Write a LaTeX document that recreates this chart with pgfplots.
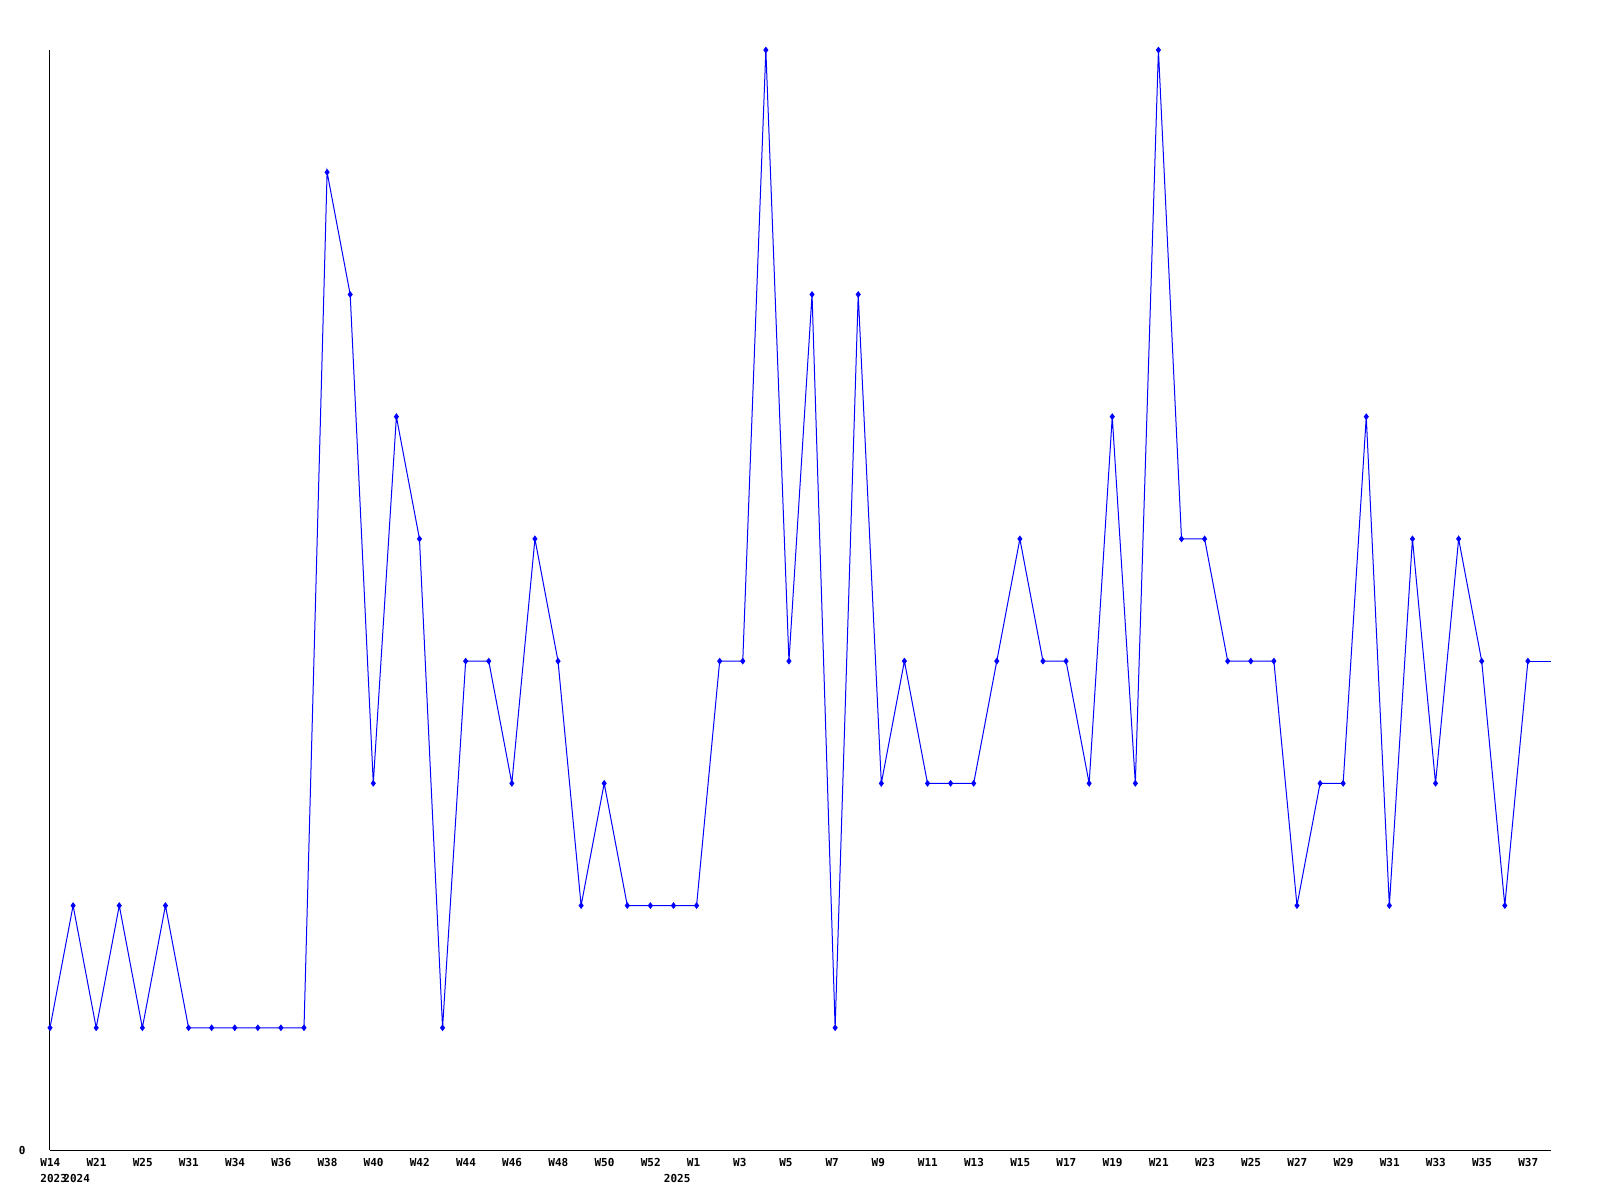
\documentclass[border=0pt]{standalone}
\usepackage{fontspec}
\setmonofont{DejaVu Sans Mono}
\usepackage{pgfplots}
\pgfplotsset{compat=1.18}
\begin{document}
\begin{tikzpicture}
\begin{axis}[
  at={(0,0)}, anchor=south west,
  scale only axis, width=750.5pt, height=550pt,
  xmin=0, xmax=65, ymin=0, ymax=9,
  axis lines*=left,
  axis line style={black, line width=0.5pt},
  major tick length=0pt,
  clip=false,
  xtick={0,2,...,64},
  xticklabels={W14,W21,W25,W31,W34,W36,W38,W40,W42,W44,W46,W48,W50,W52,W1,W3,W5,W7,W9,W11,W13,W15,W17,W19,W21,W23,W25,W27,W29,W31,W33,W35,W37},
  xticklabel style={font=\ttfamily\bfseries\fontsize{5.5}{6}\selectfont, anchor=north west, inner sep=0pt, xshift=-5pt, yshift=-4pt},
  ytick={0}, yticklabels={0},
  yticklabel style={font=\ttfamily\bfseries\fontsize{5.5}{6}\selectfont, anchor=east, inner sep=0pt, xshift=-12pt},
]
\addplot[blue, line width=0.5pt, mark=diamond*, mark size=1.3pt, mark options={blue}] coordinates {
(0,1)(1,2)(2,1)(3,2)(4,1)(5,2)(6,1)(7,1)(8,1)(9,1)(10,1)(11,1)(12,8)(13,7)(14,3)(15,6)(16,5)(17,1)(18,4)(19,4)
(20,3)(21,5)(22,4)(23,2)(24,3)(25,2)(26,2)(27,2)(28,2)(29,4)(30,4)(31,9)(32,4)(33,7)(34,1)(35,7)(36,3)(37,4)(38,3)(39,3)
(40,3)(41,4)(42,5)(43,4)(44,4)(45,3)(46,6)(47,3)(48,9)(49,5)(50,5)(51,4)(52,4)(53,4)(54,2)(55,3)(56,3)(57,6)(58,2)(59,5)
(60,3)(61,5)(62,4)(63,2)(64,4)
};
\addplot[blue, line width=0.5pt, no marks] coordinates {(64,4)(65,4)};
\node[font=\ttfamily\bfseries\fontsize{5.5}{6}\selectfont, anchor=north west, inner sep=0pt, xshift=-5pt, yshift=-12pt] at (axis cs:0,0) {2023};
\node[font=\ttfamily\bfseries\fontsize{5.5}{6}\selectfont, anchor=north west, inner sep=0pt, xshift=-5pt, yshift=-12pt] at (axis cs:1,0) {2024};
\node[font=\ttfamily\bfseries\fontsize{5.5}{6}\selectfont, anchor=north west, inner sep=0pt, xshift=-5pt, yshift=-12pt] at (axis cs:27,0) {2025};
\end{axis}
\path[use as bounding box] (-25pt,-25pt) rectangle (775pt,575pt);
\end{tikzpicture}
\end{document}
